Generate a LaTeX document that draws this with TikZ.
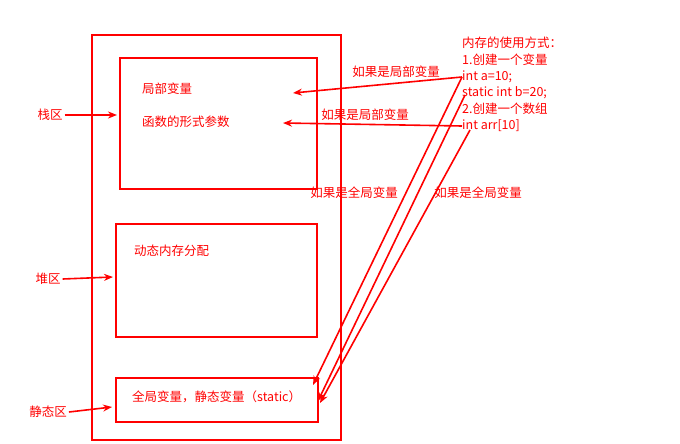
\documentclass[tikz,border=0pt]{standalone}
\usepackage{fontspec}
\setmainfont{Noto Sans CJK SC}
\usetikzlibrary{arrows.meta}
\begin{document}
\begin{tikzpicture}[x=1pt,y=-1pt,
  box/.style={draw=red, line width=1.3pt, rectangle, inner sep=0pt},
  txt/.style={text=red, font=\fontsize{12.5}{14}\selectfont, inner sep=0pt},
  arr/.style={draw=red, line width=1.6pt, -{Stealth[length=9pt,width=7pt]}}]
\useasboundingbox (0,0) rectangle (680,444);
% regions
\node[box, minimum width=249pt, minimum height=405pt] (outer) at (216.5,237.5) {};
\node[box, minimum width=197pt, minimum height=131pt] (stack) at (218.5,123.5) {};
\node[box, minimum width=201pt, minimum height=113pt] (heap) at (216.5,280.5) {};
\node[box, minimum width=202pt, minimum height=44pt] (static) at (217,400) {};
% texts inside
\node[txt, anchor=west] (t1) at (142,89) {局部变量};
\node[txt, anchor=west] (t2) at (142,122) {函数的形式参数};
\node[txt, anchor=west] (t3) at (134,251) {动态内存分配};
\node[txt, anchor=west] (t4) at (132,397) {全局变量，静态变量（static）};
% side labels
\node[txt] (zhan) at (50,115) {栈区};
\node[txt] (dui) at (48,279) {堆区};
\node[txt] (jing) at (48,412) {静态区};
\coordinate (zhanE) at (117,115);
\coordinate (duiE) at (113,277);
\coordinate (jingE) at (112,407);
\draw[arr] ([xshift=2pt]zhan.east) -- (zhanE);
\draw[arr] ([xshift=2pt]dui.east) -- (duiE);
\draw[arr] ([xshift=2pt]jing.east) -- (jingE);
% right block
\node[txt, anchor=west] (r0) at (462,43) {内存的使用方式：};
\node[txt, anchor=west] (r1) at (462,60) {1.创建一个变量};
\node[txt, anchor=west] (r2) at (462,77) {int a=10;};
\node[txt, anchor=west] (r3) at (462,93) {static int b=20;};
\node[txt, anchor=west] (r4) at (462,109) {2.创建一个数组};
\node[txt, anchor=west] (r5) at (462,126) {int arr[10]};
% connector labels
\node[txt] (l1) at (396,72) {如果是局部变量};
\node[txt] (l2) at (365,115) {如果是局部变量};
\node[txt] (l3) at (354,193) {如果是全局变量};
\node[txt] (l4) at (478,193) {如果是全局变量};
% connector ends
\coordinate (sA) at (465,95);
\coordinate (sB) at (470,130);
\coordinate (eLoc1) at (293,93);
\coordinate (eLoc2) at (283,123);
\coordinate (eG1) at (313,385);
\coordinate (eG2) at (318,401);
\coordinate (eG3) at (320,403);
\draw[arr] (r2.west) -- (eLoc1);
\draw[arr] (r5.west) -- (eLoc2);
\draw[arr] (r2.west) -- (eG1);
\draw[arr] (sA) -- (eG2);
\draw[arr] (sB) -- (eG3);
\end{tikzpicture}
\end{document}
